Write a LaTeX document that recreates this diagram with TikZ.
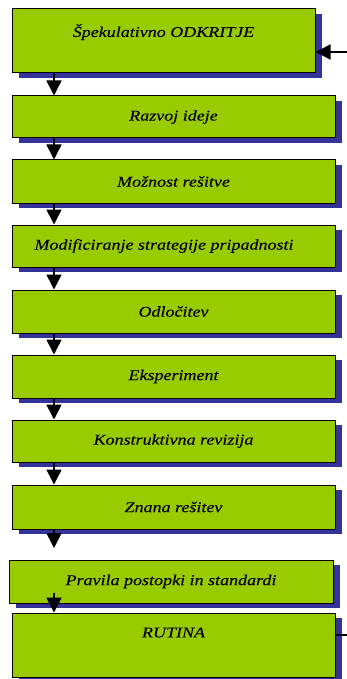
\documentclass[tikz,border=0pt]{standalone}
\usepackage{fontspec}
\setmainfont{Liberation Serif}[FakeStretch=1.2, FakeBold=0.1]
\usetikzlibrary{arrows.meta,shadows}
\definecolor{stagegreen}{HTML}{99CC00}
\definecolor{shadowblue}{HTML}{333399}

\begin{document}
\begin{tikzpicture}
[
    x = 1pt, y = -1pt,
    stage/.style = {draw, line width = 1pt, fill = stagegreen, inner sep = 0pt,
                    font = \fontsize{15}{18}\selectfont\itshape,
                    drop shadow = {shadow xshift = 7pt, shadow yshift = -5pt,
                                   fill = shadowblue, opacity = 1}},
    wide/.style = {minimum width = 323pt},
    flow/.style = {line width = 1.6pt, -{Triangle[length = 15pt, width = 15pt]}},
]
    \useasboundingbox (0,0) rectangle (347,679);

    \node[stage, minimum width = 303pt, minimum height = 64pt, text depth = 21pt]
        (spek) at (163.5,41) {Špekulativno ODKRITJE};
    \node[stage, wide, minimum height = 42pt] (razvoj) at (173.5,117) {Razvoj ideje};
    \node[stage, wide, minimum height = 43pt] (moznost) at (173.5,181.5) {Možnost rešitve};
    \node[stage, wide, minimum height = 42pt] (modif) at (173.5,246)
        {\hspace*{-19pt}Modificiranje strategije pripadnosti};
    \node[stage, wide, minimum height = 43pt] (odloc) at (173.5,311.5) {Odločitev};
    \node[stage, wide, minimum height = 43pt] (eksp) at (173.5,376.5) {Eksperiment};
    \node[stage, wide, minimum height = 42pt] (konstr) at (173.5,441) {Konstruktivna revizija};
    \node[stage, wide, minimum height = 44pt] (znana) at (173.5,507) {Znana rešitev};
    \node[stage, minimum width = 324pt, minimum height = 43pt] (pravila) at (171,581.5)
        {Pravila postopki in standardi};
    \node[stage, wide, minimum height = 64pt, text depth = 25pt]
        (rutina) at (173.5,645) {RUTINA};

    % arrows down the left side
    \coordinate (axis) at (54,0);
    \coordinate (open) at (54,548);
    \coordinate (inlet) at (347,52);
    \coordinate (outlet) at (347,635);

    \foreach \from/\to in {spek/razvoj, razvoj/moznost, moznost/modif, modif/odloc,
                           odloc/eksp, eksp/konstr, konstr/znana}
        \draw[flow] (axis |- \from.south) -- (axis |- \to.north);
    \draw[flow] (axis |- znana.south) -- (open);
    \draw[flow] ([yshift = 11pt]axis |- pravila.south) -- (axis |- rutina.north);

    % feedback in and out
    \draw[flow] (inlet) -- (inlet -| spek.east);
    \draw[line width = 2pt] (outlet -| rutina.east) -- (outlet);
\end{tikzpicture}
\end{document}
